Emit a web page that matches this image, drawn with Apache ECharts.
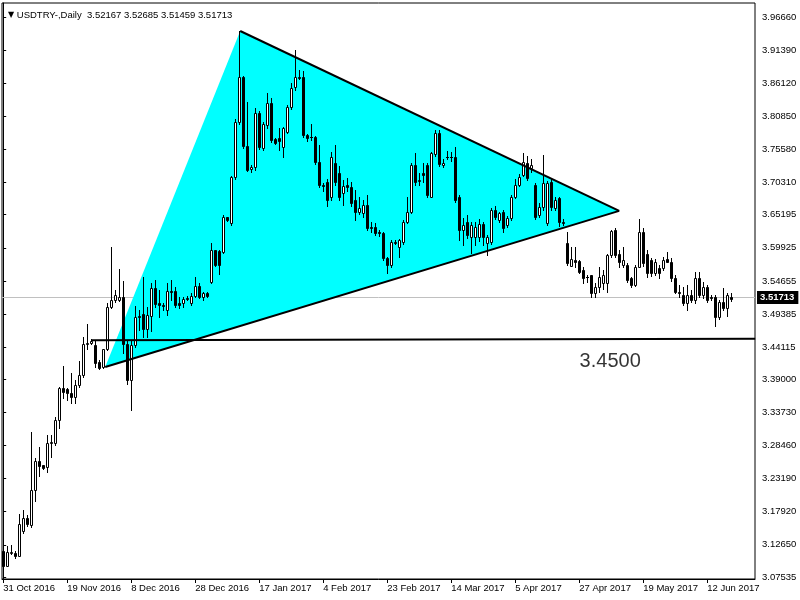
<!DOCTYPE html>
<html>
<head>
<meta charset="utf-8">
<script src="https://cdn.jsdelivr.net/npm/echarts@6/dist/echarts.min.js"></script>
<style>html,body{margin:0;padding:0;background:#fff}#c{width:800px;height:600px}</style>
</head>
<body>
<div id="c"></div>
<script>
// ---- data (daily USDTRY candles) ----
const openP = [3.1167,3.093,3.114,3.114,3.109,3.1485,3.169,3.1581,3.2138,3.260,
3.253,3.250,3.288,3.289,3.325,3.3756,3.374,3.368,3.3623,3.381,
3.397,3.4456,3.4472,3.4445,3.417,3.410,3.4376,3.5045,3.516,3.516,
3.5215,3.446,3.3888,3.4445,3.4907,3.4939,3.470,3.4907,3.5347,3.5108,
3.509,3.5002,3.531,3.531,3.5108,3.5108,3.5199,3.5108,3.523,3.5384,
3.5215,3.5278,3.5453,3.5957,3.5946,3.5931,3.6477,3.6392,3.7124,3.799,
3.8706,3.7618,3.7244,3.7274,3.8133,3.7586,3.7947,3.8292,3.7719,3.774,
3.7602,3.7841,3.8229,3.8547,3.8716,3.8706,3.7788,3.7755,3.775,3.7363,
3.700,3.7045,3.6806,3.7347,3.7188,3.686,3.6992,3.6955,3.6753,3.6567,
3.654,3.6673,3.633,3.633,3.625,3.6223,3.5825,3.5719,3.609,3.6011,
3.609,3.6408,3.6567,3.731,3.705,3.7178,3.731,3.6806,3.7486,3.7825,
3.731,3.7443,3.7443,3.7443,3.6806,3.6276,3.6408,3.617,3.617,3.617,
3.6372,3.6064,3.609,3.6594,3.6435,3.6568,3.6356,3.6462,3.6807,3.6992,
3.7151,3.7337,3.7257,3.6992,3.6515,3.6648,3.6382,3.7045,3.6621,3.678,
3.6409,3.6064,3.5709,3.5799,3.5788,3.564,3.5533,3.556,3.5268,3.5374,
3.5427,3.5427,3.5878,3.6276,3.5894,3.5719,3.5719,3.5507,3.5401,3.5693,
3.625,3.5894,3.5799,3.5597,3.5666,3.5666,3.5815,3.5773,3.5507,3.5295,
3.5242,3.5109,3.5242,3.5162,3.5507,3.5242,3.5374,3.5215,3.5215,3.4897,
3.5136,3.503,3.52167];
const highP = [3.118,3.124,3.126,3.117,3.1756,3.182,3.1746,3.3061,3.265,3.282,
3.254,3.301,3.301,3.330,3.378,3.4111,3.376,3.3994,3.389,3.4196,
3.4578,3.478,3.4535,3.4525,3.4206,3.438,3.5108,3.600,3.532,3.565,
3.5469,3.4525,3.4525,3.5066,3.500,3.5522,3.5055,3.5427,3.548,3.532,
3.5108,3.5427,3.548,3.5363,3.5215,3.5204,3.5225,3.5278,3.5522,3.5427,
3.5294,3.5294,3.6074,3.5957,3.5957,3.6514,3.649,3.714,3.8038,3.9448,
3.873,3.8318,3.7305,3.8213,3.8165,3.800,3.8461,3.8376,3.774,3.790,
3.792,3.826,3.862,3.914,3.8822,3.880,3.781,3.797,3.778,3.763,
3.703,3.708,3.752,3.763,3.730,3.707,3.7104,3.7045,3.691,3.680,
3.675,3.683,3.640,3.6383,3.628,3.625,3.585,3.612,3.612,3.614,
3.643,3.680,3.7337,3.7497,3.718,3.7337,3.734,3.751,3.7868,3.7868,
3.740,3.7533,3.752,3.7602,3.683,3.6462,3.6515,3.6408,3.640,3.645,
3.641,3.620,3.663,3.665,3.657,3.660,3.650,3.684,3.7095,3.716,
3.7508,3.7455,3.740,3.702,3.670,3.7467,3.705,3.7098,3.680,3.680,
3.645,3.625,3.6011,3.6011,3.580,3.5693,3.556,3.556,3.5427,3.5693,
3.564,3.5894,3.628,3.630,3.5958,3.6011,3.5746,3.5533,3.572,3.6446,
3.6303,3.5958,3.583,3.582,3.572,3.5852,3.593,3.583,3.556,3.540,
3.5374,3.540,3.532,3.5613,3.5613,3.545,3.540,3.5242,3.5242,3.5162,
3.5348,3.5268,3.52685];
const lowP = [3.092,3.092,3.112,3.106,3.108,3.145,3.157,3.155,3.196,3.236,
3.247,3.242,3.266,3.285,3.312,3.360,3.357,3.353,3.353,3.378,
3.394,3.4376,3.446,3.410,3.407,3.408,3.4366,3.503,3.5135,3.515,
3.4313,3.3825,3.3411,3.442,3.4684,3.458,3.458,3.467,3.5055,3.4896,
3.5002,3.4923,3.516,3.5055,3.5029,3.5055,3.5161,3.5082,3.5204,3.5188,
3.5161,3.5215,3.5427,3.5703,3.5575,3.5904,3.642,3.636,3.709,3.797,
3.758,3.7215,3.720,3.7236,3.757,3.755,3.790,3.7676,3.764,3.755,
3.7443,3.782,3.820,3.850,3.868,3.775,3.770,3.771,3.733,3.696,
3.690,3.665,3.676,3.700,3.676,3.667,3.690,3.665,3.6435,3.6535,
3.648,3.628,3.625,3.6195,3.618,3.580,3.5587,3.568,3.605,3.5846,
3.605,3.638,3.654,3.700,3.6986,3.7045,3.680,3.680,3.746,3.730,
3.728,3.740,3.738,3.672,3.6117,3.6037,3.615,3.5905,3.604,3.610,
3.6037,3.5877,3.605,3.645,3.640,3.625,3.632,3.643,3.678,3.697,
3.713,3.707,3.720,3.645,3.648,3.660,3.6356,3.660,3.660,3.634,
3.635,3.572,3.570,3.569,3.5587,3.5428,3.545,3.5215,3.5215,3.5295,
3.5337,3.5295,3.585,3.585,3.5693,3.5693,3.5454,3.5374,3.5385,3.5682,
3.5703,3.5534,3.555,3.556,3.5513,3.564,3.576,3.547,3.527,3.5215,
3.5083,3.5003,3.5135,3.512,3.5215,3.520,3.5135,3.516,3.4754,3.4855,
3.5003,3.4908,3.51459];
const closeP = [3.0928,3.115,3.1145,3.109,3.1597,3.1692,3.160,3.2138,3.260,3.252,
3.249,3.2886,3.290,3.3252,3.3761,3.3703,3.3676,3.362,3.3809,3.3968,
3.4461,3.4482,3.4514,3.4164,3.4074,3.4376,3.5045,3.5161,3.524,3.5215,
3.4461,3.3888,3.4445,3.4886,3.4886,3.4695,3.4923,3.5347,3.5098,3.5082,
3.5066,3.531,3.5294,3.5082,3.5082,3.5177,3.5177,3.523,3.5384,3.5215,
3.5278,3.523,3.5957,3.5719,3.5719,3.6477,3.6435,3.7124,3.800,3.8706,
3.7618,3.7231,3.7285,3.8133,3.7602,3.7963,3.8292,3.7708,3.7666,3.770,
3.7895,3.8229,3.8531,3.8706,3.870,3.7788,3.7735,3.775,3.7363,3.6992,
3.697,3.676,3.7433,3.7045,3.6806,3.6976,3.6966,3.670,3.6567,3.6619,
3.6673,3.6303,3.6303,3.6223,3.6223,3.5825,3.5719,3.609,3.6064,3.6117,
3.6408,3.6567,3.731,3.7045,3.7072,3.7151,3.6833,3.7497,3.7815,3.7326,
3.7347,3.7443,3.7433,3.6753,3.6276,3.6356,3.6196,3.6356,3.6329,3.6372,
3.617,3.617,3.6594,3.6488,3.6541,3.6303,3.6462,3.6807,3.6992,3.7125,
3.7364,3.7098,3.731,3.6488,3.6648,3.7019,3.7019,3.6648,3.6754,3.6409,
3.6383,3.5746,3.5815,3.5773,3.5613,3.5507,3.553,3.5268,3.5364,3.5533,
3.556,3.5878,3.6266,3.5878,3.5772,3.5799,3.5481,3.5401,3.5693,3.625,
3.5746,3.5597,3.5597,3.5773,3.5587,3.5799,3.5773,3.5507,3.5295,3.5268,
3.5109,3.5242,3.5162,3.5507,3.5242,3.5374,3.5162,3.5189,3.4897,3.5136,
3.503,3.5242,3.51713];

const dateTickIndex = [0,16,32,48,64,80,96,112,128,144,160,176];
const dateTickLabels = ['31 Oct 2016','19 Nov 2016','8 Dec 2016','28 Dec 2016','17 Jan 2017','4 Feb 2017',
  '23 Feb 2017','14 Mar 2017','5 Apr 2017','27 Apr 2017','19 May 2017','12 Jun 2017'];
const priceTicks = [3.96660,3.91390,3.86120,3.80850,3.75580,3.70310,3.65195,3.59925,3.54655,
  3.49385,3.44115,3.39000,3.33730,3.28460,3.23190,3.17920,3.12650,3.07535];
const lastPrice = 3.51713;
const headerText = 'USDTRY-,Daily  3.52167 3.52685 3.51459 3.51713';

// drawn objects (bar index, price)
const triangleTop = [59.25, 3.9443];
const triangleLeft = [25.5, 3.4096];
const triangleRight = [154, 3.658];
const supportLine = [[22, 3.4520], [188, 3.4545]];
const supportText = '3.4500';
const supportTextAt = [151.75, 3.4191];

// ---- chart ----
const FONT = 'Liberation Sans';
const xMin = -0.3, xMax = 187.95;
const yMin = 3.0721, yMax = 3.9889;

const candles = openP.map((o, i) => [i, o, closeP[i], lowP[i], highP[i]]);

function renderCandle(params, api) {
  const i = api.value(0), o = api.value(1), c = api.value(2), l = api.value(3), h = api.value(4);
  const po = api.coord([i, o]), pc = api.coord([i, c]), pl = api.coord([i, l]), ph = api.coord([i, h]);
  const cx = Math.round(po[0]);
  const xm = cx + 0.5;
  const yTop = Math.round(Math.min(po[1], pc[1]));
  const yBot = Math.round(Math.max(po[1], pc[1]));
  const children = [{
    type: 'line',
    shape: { x1: xm, y1: Math.round(ph[1]), x2: xm, y2: Math.round(pl[1]) + 1 },
    style: { stroke: '#000', lineWidth: 1 }
  }];
  if (yBot - yTop < 1) {
    children.push({ type: 'line', shape: { x1: cx - 1, y1: yTop + 0.5, x2: cx + 2, y2: yTop + 0.5 },
      style: { stroke: '#000', lineWidth: 1 } });
  } else {
    children.push({ type: 'rect', shape: { x: cx - 0.5, y: yTop + 0.5, width: 2, height: yBot - yTop },
      style: { fill: c >= o ? '#fff' : '#000', stroke: '#000', lineWidth: 1 } });
  }
  return { type: 'group', children };
}

const chart = echarts.init(document.getElementById('c'), null, { renderer: 'canvas' });
chart.setOption({
  animation: false,
  backgroundColor: '#fff',
  title: {
    text: '{a|▼} ' + headerText,
    left: 3, top: 5,
    textStyle: { fontFamily: FONT, fontSize: 9.5, fontWeight: 'normal', color: '#000',
      rich: { a: { fontSize: 8, color: '#000', fontFamily: 'DejaVu Sans' } } }
  },
  grid: { left: 2, right: 45, top: 3, bottom: 21, show: true, borderColor: '#000', borderWidth: 1, backgroundColor: 'transparent' },
  xAxis: {
    type: 'value', min: xMin, max: xMax,
    splitLine: { show: false },
    axisLine: { show: true, lineStyle: { color: '#000', width: 1 } },
    axisTick: { show: true, customValues: dateTickIndex, length: 4, lineStyle: { color: '#000' } },
    axisLabel: {
      customValues: dateTickIndex,
      formatter: v => dateTickLabels[dateTickIndex.indexOf(Math.round(v))] || '',
      align: 'left', margin: 4, color: '#000', fontFamily: FONT, fontSize: 9.5
    }
  },
  yAxis: {
    type: 'value', position: 'right', min: yMin, max: yMax,
    splitLine: { show: false },
    axisLine: { show: true, lineStyle: { color: '#000', width: 1 } },
    axisTick: { show: true, customValues: priceTicks, length: 3, lineStyle: { color: '#000' } },
    axisLabel: {
      customValues: priceTicks,
      formatter: v => v.toFixed(5),
      margin: 7, color: '#000', fontFamily: FONT, fontSize: 9.5
    }
  },
  series: [
    {
      type: 'custom', name: 'triangle', z: 1, silent: true,
      data: [triangleTop, triangleRight, triangleLeft],
      renderItem: (params, api) => {
        if (params.dataIndex !== 0) return null;
        const pts = [triangleTop, triangleRight, triangleLeft].map(p => api.coord(p));
        return { type: 'polygon', shape: { points: pts }, style: { fill: '#00ffff' } };
      },
      markLine: {
        z: 0.5, silent: true, symbol: ['none', 'none'],
        lineStyle: { color: '#c0c0c0', width: 1, type: 'solid' },
        label: { show: true, position: 'end', formatter: lastPrice.toFixed(5), color: '#fff',
          backgroundColor: '#000', padding: [2, 4, 1, 3], distance: 2, fontFamily: FONT, fontSize: 9.5, fontWeight: 'bold' },
        data: [{ yAxis: lastPrice }]
      }
    },
    {
      type: 'custom', name: 'candles', z: 5, clip: true,
      data: candles,
      encode: { x: 0, y: [1, 2, 3, 4] },
      renderItem: renderCandle
    },
    {
      type: 'line', z: 6, silent: true, symbol: 'none',
      data: [triangleTop, triangleRight],
      lineStyle: { color: '#000', width: 2 }
    },
    {
      type: 'line', z: 6, silent: true, symbol: 'none',
      data: [triangleLeft, triangleRight],
      lineStyle: { color: '#000', width: 2 }
    },
    {
      type: 'line', z: 6, silent: true, symbol: 'none',
      data: supportLine,
      lineStyle: { color: '#000', width: 2 }
    },
    {
      type: 'scatter', z: 7, silent: true, symbolSize: 1,
      itemStyle: { color: 'transparent' },
      data: [supportTextAt],
      label: { show: true, position: 'inside', formatter: supportText, color: '#000',
        fontFamily: FONT, fontSize: 20 }
    }
  ]
});
</script>
</body>
</html>
